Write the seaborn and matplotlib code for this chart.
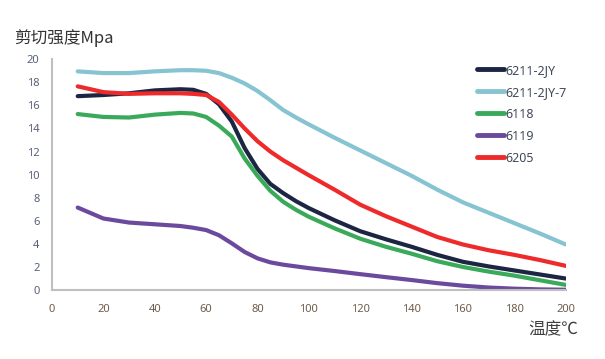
import numpy as np
import pandas as pd
import matplotlib
matplotlib.use('Agg')
import matplotlib.pyplot as plt
import seaborn as sns

# temperature (°C) and shear strength (MPa)
temp = [10, 20, 30, 40, 50, 55, 60, 65, 70, 75, 80, 85, 90, 95,
        100, 110, 120, 130, 140, 150, 160, 170, 180, 190, 200]

s_6211_2jy = [16.8, 16.9, 17.05, 17.3, 17.4, 17.35, 17.0, 16.1, 14.6, 12.3, 10.5, 9.2, 8.4, 7.7,
              7.1, 6.05, 5.1, 4.4, 3.75, 3.05, 2.45, 2.05, 1.7, 1.35, 1.0]
s_6211_2jy_7 = [18.95, 18.8, 18.8, 18.95, 19.05, 19.05, 19.0, 18.8, 18.4, 17.9, 17.25, 16.45, 15.6, 14.95,
                14.35, 13.2, 12.1, 11.0, 9.9, 8.7, 7.6, 6.7, 5.8, 4.9, 3.95]
s_6118 = [15.25, 15.0, 14.95, 15.2, 15.35, 15.3, 15.0, 14.25, 13.3, 11.4, 9.9, 8.6, 7.65, 6.95,
          6.35, 5.35, 4.45, 3.75, 3.15, 2.5, 2.0, 1.6, 1.25, 0.85, 0.45]
s_6119 = [7.15, 6.2, 5.85, 5.7, 5.55, 5.4, 5.2, 4.75, 4.05, 3.3, 2.75, 2.4, 2.2, 2.05,
          1.9, 1.65, 1.38, 1.12, 0.87, 0.6, 0.38, 0.22, 0.12, 0.06, 0.03]
s_6205 = [17.65, 17.15, 17.0, 17.05, 17.05, 17.0, 16.9, 16.3, 15.2, 14.0, 12.9, 12.0, 11.25, 10.6,
          9.95, 8.7, 7.4, 6.4, 5.5, 4.6, 3.95, 3.45, 3.05, 2.6, 2.1]

names = ['6211-2JY', '6211-2JY-7', '6118', '6119', '6205']
colors = ['#1c2541', '#86c4d2', '#3aaa5a', '#6b4a9e', '#ee2a2a']
series = [s_6211_2jy, s_6211_2jy_7, s_6118, s_6119, s_6205]

df = pd.concat([pd.DataFrame({'temp': temp, 'value': v, 'bearing': n})
                for n, v in zip(names, series)], ignore_index=True)

sns.set_style('white')
plt.rcParams['font.family'] = ['Noto Sans CJK SC', 'DejaVu Sans']

fig = plt.figure(figsize=(6.05, 3.59), dpi=100)
ax = fig.add_axes([0.086, 0.192, 0.849, 0.643])

sns.lineplot(data=df, x='temp', y='value', hue='bearing', hue_order=names,
             palette=dict(zip(names, colors)), linewidth=3, ax=ax,
             solid_capstyle='round', solid_joinstyle='round', legend=False)

ax.set_xlim(0, 200)
ax.set_ylim(0, 20)
ax.set_xticks(np.arange(0, 201, 20))
ax.set_yticks(np.arange(0, 21, 2))
ax.set_xlabel('')
ax.set_ylabel('')
for s in ['top', 'right']:
    ax.spines[s].set_visible(False)
for s in ['left', 'bottom']:
    ax.spines[s].set_color('#bfbfbf')
    ax.spines[s].set_linewidth(1.5)
ax.tick_params(axis='y', length=0, pad=9, labelsize=8, labelcolor='#56607a')
ax.tick_params(axis='x', length=0, pad=10, labelsize=8, labelcolor='#6e5c4c')
for lab in ax.get_xticklabels() + ax.get_yticklabels():
    lab.set_family(['Noto Sans', 'DejaVu Sans'])

handles = [plt.Line2D([], [], color=c, lw=3.5, solid_capstyle='round') for c in colors]
leg = ax.legend(handles, names, loc='upper left', bbox_to_anchor=(0.805, 1.03),
                frameon=False, handlelength=2.2, handletextpad=0.05,
                labelspacing=0.72, prop={'family': ['Noto Sans', 'DejaVu Sans'], 'size': 9})
for t in leg.get_texts():
    t.set_color('#404a5a')

fig.text(0.024, 0.895, '剪切强度Mpa', fontsize=12, color='#333333', va='center', ha='left')
fig.text(0.955, 0.08, '温度℃', fontsize=12, color='#404040', va='center', ha='right')

plt.savefig('out.png', dpi=100)
